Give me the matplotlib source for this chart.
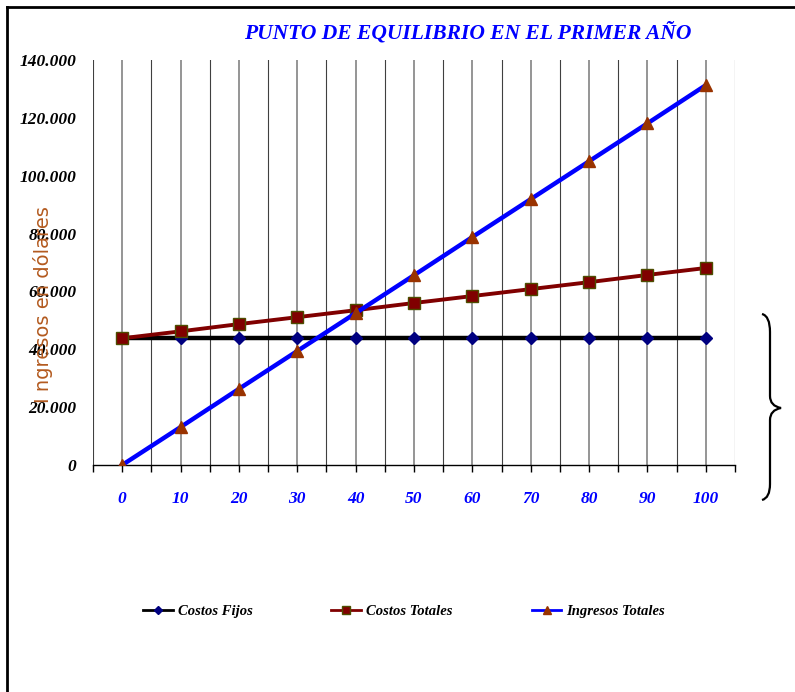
import matplotlib.pyplot as plt
from matplotlib.path import Path
from matplotlib.patches import PathPatch
from matplotlib.lines import Line2D
from matplotlib.ticker import FuncFormatter, MultipleLocator

plt.rcParams['font.family'] = ['Liberation Serif', 'DejaVu Serif']

# Datos del punto de equilibrio
unidades = [0, 10, 20, 30, 40, 50, 60, 70, 80, 90, 100]
costos_fijos = [43800, 43800, 43800, 43800, 43800, 43800, 43800, 43800, 43800, 43800, 43800]
costos_totales = [43800, 46200, 48700, 51100, 53500, 56000, 58400, 60800, 63200, 65700, 68100]
ingresos_totales = [0, 13100, 26300, 39400, 52500, 65600, 78800, 91900, 105000, 118100, 131300]
series_labels = ['Costos Fijos', 'Costos Totales', 'Ingresos Totales']

W, H = 795, 692
fig = plt.figure(figsize=(W / 100, H / 100), dpi=100)
ax = fig.add_axes([93 / W, 1 - 465 / H, (735 - 93) / W, (465 - 60) / H])

ax.plot(unidades, costos_fijos, color='black', lw=3.2, marker='D', ms=6,
        mfc='#000080', mec='#000080', label=series_labels[0], zorder=3)
ax.plot(unidades, costos_totales, color='#800000', lw=2.8, marker='s', ms=8,
        mfc='#800000', mec='#4d4d00', label=series_labels[1], zorder=4)
ax.plot(unidades, ingresos_totales, color='#0000ff', lw=3.2, marker='^', ms=9,
        mfc='#993300', mec='#993300', label=series_labels[2], zorder=5)

ax.set_xlim(-5, 105)
ax.set_ylim(0, 140000)
ax.xaxis.set_major_locator(MultipleLocator(10))
ax.xaxis.set_minor_locator(MultipleLocator(5))
ax.yaxis.set_major_locator(MultipleLocator(20000))
ax.yaxis.set_major_formatter(FuncFormatter(lambda v, p: f'{int(v):,}'.replace(',', '.')))

ax.grid(axis='x', which='major', color='#8c8c8c', lw=1.3)
ax.grid(axis='x', which='minor', color='#404040', lw=0.8)
ax.set_axisbelow(True)

for s in ['left', 'top', 'right']:
    ax.spines[s].set_visible(False)
ax.spines['bottom'].set_linewidth(1.0)

ax.tick_params(axis='y', length=0, pad=12, labelsize=12.5)
ax.tick_params(axis='x', which='both', direction='out', length=5, width=1,
               pad=14, labelsize=12.5, labelcolor='#0000ff')
for lab in ax.get_yticklabels() + ax.get_xticklabels():
    lab.set_fontweight('bold')
    lab.set_fontstyle('italic')

# en el original la etiqueta del eje cae encima de los números
ax.set_ylabel('I ngresos en dólares', color='#b35a1f', fontsize=14,
              family=['DejaVu Sans'])
ax.yaxis.set_label_coords((53 - 93) / 642, (465 - 305) / 405)

fig.text(468 / W, 1 - 33 / H, 'PUNTO DE EQUILIBRIO EN EL PRIMER AÑO', color='#0000ff',
         fontsize=15.5, fontweight='bold', fontstyle='italic', ha='center', va='center')

leg = fig.legend(loc='center', bbox_to_anchor=(404 / W, 1 - 611 / H), ncol=3, frameon=False,
                 prop={'weight': 'bold', 'style': 'italic', 'size': 10.5},
                 handlelength=2.05, handletextpad=0.35, columnspacing=5.4,
                 markerscale=0.7)
for ln in leg.get_lines():
    ln.set_linewidth(2)

# llave a la derecha
def px(x, y):
    return (x / W, 1 - y / H)

verts = [px(762, 314), px(770, 316), px(770, 332),
         px(770, 396),
         px(770, 406), px(781, 408),
         px(770, 410), px(770, 420),
         px(770, 484),
         px(770, 498), px(762, 500)]
codes = [Path.MOVETO, Path.CURVE3, Path.CURVE3,
         Path.LINETO,
         Path.CURVE3, Path.CURVE3,
         Path.CURVE3, Path.CURVE3,
         Path.LINETO,
         Path.CURVE3, Path.CURVE3]
fig.add_artist(PathPatch(Path(verts, codes), fill=False, lw=1.6, color='black',
                         transform=fig.transFigure))

# marco
fig.add_artist(Line2D([7 / W, 7 / W], [0, 1 - 7 / H], color='black', lw=2,
                      transform=fig.transFigure))
fig.add_artist(Line2D([7 / W, 1], [1 - 7 / H, 1 - 7 / H], color='black', lw=2,
                      transform=fig.transFigure))

fig.savefig('out.png', dpi=100)
